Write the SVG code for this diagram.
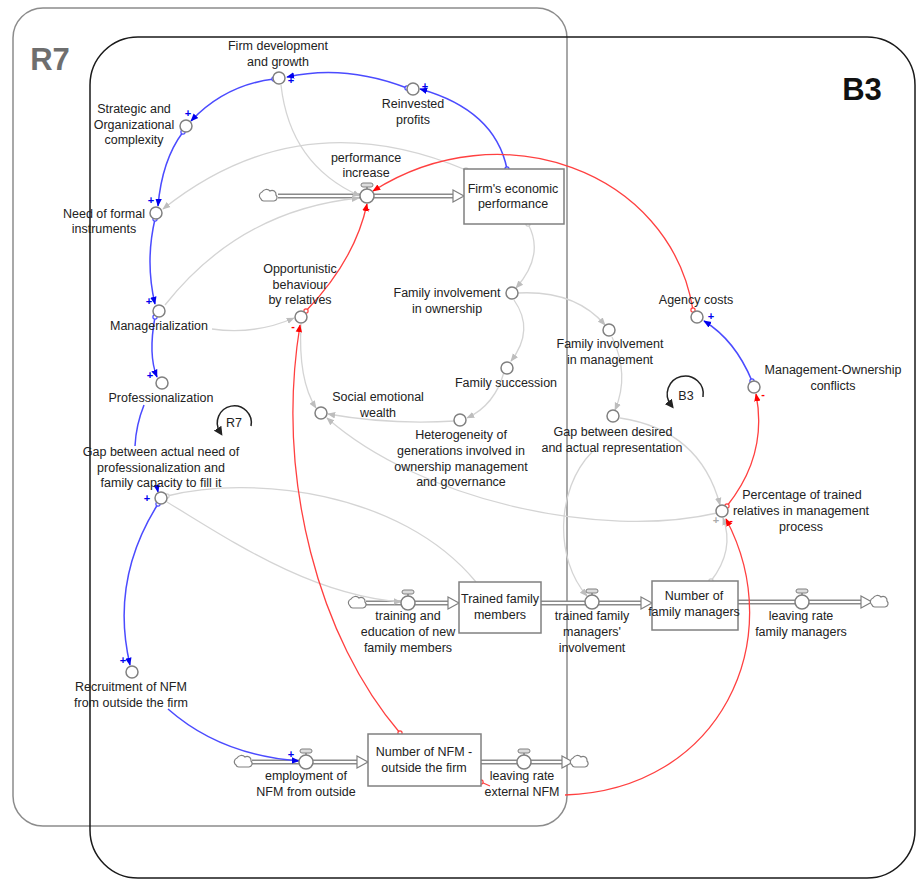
<svg xmlns="http://www.w3.org/2000/svg" xmlns:xlink="http://www.w3.org/1999/xlink" width="917" height="881" viewBox="0 0 917 881">
<style>
.t{font-family:"Liberation Sans",Arial,sans-serif;font-size:12.5px;fill:#222;text-anchor:middle}
.v{fill:#fff;stroke:#808080;stroke-width:1.5}
.box{fill:#fff;stroke:#808080;stroke-width:1.5}
.lb{fill:none;stroke:#4b4bff;stroke-width:1.5}
.lr{fill:none;stroke:#ff4040;stroke-width:1.3}
.lg{fill:none;stroke:#d4d4d4;stroke-width:1.3}
.pipe{fill:none;stroke:#8a8a8a;stroke-width:5}
.pipei{fill:none;stroke:#fff;stroke-width:2}
.pm{font-family:"Liberation Sans",Arial,sans-serif;font-size:11px;font-weight:bold;text-anchor:middle}
</style>
<defs>
<marker id="ab" viewBox="0 0 10 10" refX="9" refY="5" markerWidth="8" markerHeight="8" orient="auto" markerUnits="userSpaceOnUse"><path d="M0,1 L10,5 L0,9 z" fill="#0000ee"/></marker>
<marker id="ar" viewBox="0 0 10 10" refX="9" refY="5" markerWidth="8" markerHeight="8" orient="auto" markerUnits="userSpaceOnUse"><path d="M0,1 L10,5 L0,9 z" fill="#ff0000"/></marker>
<marker id="ag" viewBox="0 0 10 10" refX="9" refY="5" markerWidth="8" markerHeight="8" orient="auto" markerUnits="userSpaceOnUse"><path d="M0,1 L10,5 L0,9 z" fill="#bdbdbd"/></marker>
<marker id="ak" viewBox="0 0 10 10" refX="5" refY="5" markerWidth="9" markerHeight="9" orient="auto" markerUnits="userSpaceOnUse"><path d="M0,0 L10,5 L0,10 z" fill="#222"/></marker>
<marker id="tb" viewBox="0 0 10 10" refX="5" refY="5" markerWidth="6" markerHeight="6" markerUnits="userSpaceOnUse"><circle cx="5" cy="5" r="3.5" fill="#fff" stroke="#4b4bff" stroke-width="2"/></marker>
<marker id="tr" viewBox="0 0 10 10" refX="5" refY="5" markerWidth="6" markerHeight="6" markerUnits="userSpaceOnUse"><circle cx="5" cy="5" r="3.5" fill="#fff" stroke="#ff4040" stroke-width="2"/></marker>
<marker id="tg" viewBox="0 0 10 10" refX="5" refY="5" markerWidth="6" markerHeight="6" markerUnits="userSpaceOnUse"><circle cx="5" cy="5" r="3.5" fill="#fff" stroke="#d0d0d0" stroke-width="2"/></marker>
<g id="valve"><rect x="-6" y="-13" width="12" height="4" rx="2" fill="#ddd" stroke="#808080" stroke-width="1"/><line x1="0" y1="-9" x2="0" y2="-7" stroke="#808080" stroke-width="1.5"/><circle r="7" class="v"/></g>
<g id="cloud"><path d="M-8,3 a4,4 0 0 1 1,-7 a5,5 0 0 1 8,-1 a4,4 0 0 1 6,4 a3.5,3.5 0 0 1 -2,6 h-10 a3,3 0 0 1 -3,-2 z" fill="#fff" stroke="#808080" stroke-width="1.2"/></g>
<path id="tri" d="M0,-6 L11,0 L0,6 z" fill="#fff" stroke="#808080" stroke-width="1.2"/>
</defs>

<g id="loop-boxes">
<rect x="13" y="8" width="554" height="818" rx="30" fill="none" stroke="#8c8c8c" stroke-width="1.5"/>
<rect x="90" y="37" width="825" height="841" rx="48" fill="none" stroke="#1a1a1a" stroke-width="1.5"/>
<text x="50" y="70" font-family="Liberation Sans,Arial,sans-serif" font-size="31" font-weight="bold" fill="#6e6e6e" text-anchor="middle">R7</text>
<text x="862" y="100" font-family="Liberation Sans,Arial,sans-serif" font-size="31" font-weight="bold" fill="#111" text-anchor="middle">B3</text>
</g>

<g id="flows">
<path class="pipe" d="M278,196 H455"/><path class="pipei" d="M278,196 H455"/><use href="#tri" x="453" y="196"/>
<path class="pipe" d="M366,603 H449"/><path class="pipei" d="M366,603 H449"/><use href="#tri" x="448" y="603"/>
<path class="pipe" d="M541,603 H642"/><path class="pipei" d="M541,603 H642"/><use href="#tri" x="641" y="603"/>
<path class="pipe" d="M738,602 H862"/><path class="pipei" d="M738,602 H862"/><use href="#tri" x="861" y="602"/>
<path class="pipe" d="M252,762 H358"/><path class="pipei" d="M252,762 H358"/><use href="#tri" x="357" y="762"/>
<path class="pipe" d="M481,762 H563"/><path class="pipei" d="M481,762 H563"/><use href="#tri" x="562" y="762"/>
</g>

<g id="connectors">
<path class="lg" d="M281,85 Q290,165 360,196" marker-end="url(#ag)"/>
<path class="lg" d="M466,170 Q300,100 163,209" marker-start="url(#tg)" marker-end="url(#ag)"/>
<path class="lg" d="M165,305 Q240,210 359,198" marker-end="url(#ag)"/>
<path class="lg" d="M212,329 Q255,335 294,318" marker-end="url(#ag)"/>
<path class="lg" d="M528,224 Q545,255 516,288" marker-start="url(#tg)" marker-end="url(#ag)"/>
<path class="lg" d="M518,293 Q575,290 605,325" marker-end="url(#ag)"/>
<path class="lg" d="M514,300 Q535,330 511,361" marker-end="url(#ag)"/>
<path class="lg" d="M504,372 Q495,405 467,418" marker-end="url(#ag)"/>
<path class="lg" d="M455,421 Q390,425 328,414" marker-end="url(#ag)"/>
<path class="lg" d="M301,324 Q298,380 316,408" marker-end="url(#ag)"/>
<path class="lg" d="M717,513 C600,540 420,500 327,418" marker-end="url(#ag)"/>
<path class="lg" d="M612,337 Q630,375 615,410" marker-end="url(#ag)"/>
<path class="lg" d="M620,418 Q700,430 720,505" marker-end="url(#ag)"/>
<path class="lg" d="M592,452 C555,490 555,560 587,596" marker-end="url(#ag)"/>
<path class="lg" d="M711,581 Q735,550 723,518" marker-start="url(#tg)" marker-end="url(#ag)"/>
<path class="lg" d="M167,496 C250,475 400,490 476,582" marker-start="url(#tg)"/>
<path class="lg" d="M167,502 C230,540 310,595 401,602" marker-end="url(#ag)"/>

<path class="lb" d="M407,88 Q345,64 287,77" marker-start="url(#tb)" marker-end="url(#ab)"/>
<path class="lb" d="M507,169 Q495,110 420,89" marker-start="url(#tb)" marker-end="url(#ab)"/>
<path class="lb" d="M274,79 Q225,85 191,121" marker-start="url(#tb)" marker-end="url(#ab)"/>
<path class="lb" d="M183,132 Q162,160 158,206" marker-start="url(#tb)" marker-end="url(#ab)"/>
<path class="lb" d="M155,219 Q145,262 155,304" marker-start="url(#tb)" marker-end="url(#ab)"/>
<path class="lb" d="M155,317 Q148,355 157,377" marker-start="url(#tb)" marker-end="url(#ab)"/>
<path class="lb" d="M144,405 Q136,425 135,446"/>
<path class="lb" d="M157,487 L158,492" marker-end="url(#ab)"/>
<path class="lb" d="M158,504 Q110,580 130,665" marker-start="url(#tb)" marker-end="url(#ab)"/>
<path class="lb" d="M168,709 Q220,755 299,761" marker-end="url(#ab)"/>
<path class="lb" d="M752,381 Q735,340 704,321" marker-start="url(#tb)" marker-end="url(#ab)"/>

<path class="lr" d="M693,310 C670,170 500,110 373,191" marker-start="url(#tr)" marker-end="url(#ar)"/>
<path class="lr" d="M306,311 Q355,260 367,204" marker-start="url(#tr)" marker-end="url(#ar)"/>
<path class="lr" d="M400,733 C320,640 275,480 300,325" marker-start="url(#tr)" marker-end="url(#ar)"/>
<path class="lr" d="M565,795 C720,790 790,640 726,519" marker-end="url(#ar)"/>
<path class="lr" d="M727,506 Q768,455 756,394" marker-start="url(#tr)" marker-end="url(#ar)"/>
<path class="lr" d="M481,782 L490,786" marker-start="url(#tr)"/>

<path d="M251,426 A17,17 0 1 0 220,432" fill="none" stroke="#222" stroke-width="1.5" marker-end="url(#ak)"/>
<path d="M703,397 A18,18 0 1 0 671,405" fill="none" stroke="#222" stroke-width="1.5" marker-end="url(#ak)"/>
</g>

<g id="polarities">
<text class="pm" fill="#0000ee" x="291" y="84">+</text>
<text class="pm" fill="#0000ee" x="425" y="90">+</text>
<text class="pm" fill="#0000ee" x="188" y="117">+</text>
<text class="pm" fill="#0000ee" x="151" y="204">+</text>
<text class="pm" fill="#0000ee" x="149" y="305">+</text>
<text class="pm" fill="#0000ee" x="150" y="379">+</text>
<text class="pm" fill="#0000ee" x="147" y="502">+</text>
<text class="pm" fill="#0000ee" x="123" y="664">+</text>
<text class="pm" fill="#0000ee" x="291" y="758">+</text>
<text class="pm" fill="#0000ee" x="711" y="320">+</text>
<text class="pm" fill="#ff0000" x="293" y="330">-</text>
<text class="pm" fill="#ff0000" x="368" y="212">-</text>
<text class="pm" fill="#ff0000" x="763" y="398">-</text>
<text class="pm" fill="#ff0000" x="731" y="524">-</text>
<text class="pm" fill="#aaa" x="716" y="524">+</text>
</g>

<g id="n-firmdev"><circle cx="279" cy="78" r="6" class="v"/><text class="t" x="278" y="50">Firm development</text><text class="t" x="278" y="66">and growth</text></g>
<g id="n-reinvested"><circle cx="413" cy="89" r="6" class="v"/><text class="t" x="413" y="108">Reinvested</text><text class="t" x="413" y="124">profits</text></g>
<g id="n-strategic"><circle cx="186" cy="126" r="6" class="v"/><text class="t" x="134" y="113">Strategic and</text><text class="t" x="134" y="129">Organizational</text><text class="t" x="134" y="144">complexity</text></g>
<g id="n-needformal"><circle cx="156" cy="213" r="6" class="v"/><text class="t" x="104" y="218">Need of formal</text><text class="t" x="104" y="233">instruments</text></g>
<g id="n-manager"><circle cx="159" cy="311" r="6" class="v"/><text class="t" x="159" y="330">Managerialization</text></g>
<g id="n-profess"><circle cx="162" cy="383" r="6" class="v"/><text class="t" x="161" y="402">Professionalization</text></g>
<g id="n-gapactual"><circle cx="161" cy="498" r="6" class="v"/><text class="t" x="161" y="456">Gap between actual need of</text><text class="t" x="161" y="472">professionalization and</text><text class="t" x="161" y="487">family capacity to fill it</text></g>
<g id="n-recruit"><circle cx="132" cy="672" r="6" class="v"/><text class="t" x="131" y="691">Recruitment of NFM</text><text class="t" x="131" y="707">from outside the firm</text></g>
<g id="n-employ"><use href="#cloud" x="244" y="762"/><use href="#valve" x="306" y="762"/><text class="t" x="306" y="780">employment of</text><text class="t" x="306" y="796">NFM from outside</text></g>
<g id="n-nfm"><rect class="box" x="368" y="734" width="113" height="52"/><text class="t" x="424" y="756">Number of NFM -</text><text class="t" x="424" y="772">outside the firm</text></g>
<g id="n-leaveext"><use href="#valve" x="524" y="762"/><use href="#cloud" x="580" y="762"/><text class="t" x="522" y="780">leaving rate</text><text class="t" x="522" y="796">external NFM</text></g>
<g id="n-training"><use href="#cloud" x="358" y="603"/><use href="#valve" x="408" y="603"/><text class="t" x="408" y="620">training and</text><text class="t" x="408" y="636">education of new</text><text class="t" x="408" y="652">family members</text></g>
<g id="n-trained"><rect class="box" x="459" y="582" width="82" height="51"/><text class="t" x="500" y="603">Trained family</text><text class="t" x="500" y="619">members</text></g>
<g id="n-trainedinv"><use href="#valve" x="592" y="602"/><text class="t" x="592" y="620">trained family</text><text class="t" x="592" y="636">managers'</text><text class="t" x="592" y="652">involvement</text></g>
<g id="n-nfam"><rect class="box" x="652" y="581" width="86" height="49"/><text class="t" x="694" y="600">Number of</text><text class="t" x="694" y="616">family managers</text></g>
<g id="n-leavefam"><use href="#valve" x="802" y="602"/><use href="#cloud" x="880" y="602"/><text class="t" x="801" y="620">leaving rate</text><text class="t" x="801" y="636">family managers</text></g>
<g id="n-perfinc"><use href="#cloud" x="269" y="196"/><use href="#valve" x="367" y="196"/><text class="t" x="366" y="162">performance</text><text class="t" x="366" y="177">increase</text></g>
<g id="n-firmperf"><rect class="box" x="464" y="169" width="100" height="55"/><text class="t" x="513" y="193">Firm's economic</text><text class="t" x="513" y="208">performance</text></g>
<g id="n-opport"><circle cx="301" cy="317" r="6" class="v"/><text class="t" x="300" y="273">Opportunistic</text><text class="t" x="300" y="289">behaviour</text><text class="t" x="300" y="304">by relatives</text></g>
<g id="n-fio"><circle cx="512" cy="293" r="6" class="v"/><text class="t" x="447" y="297">Family involvement</text><text class="t" x="447" y="313">in ownership</text></g>
<g id="n-fim"><circle cx="609" cy="330" r="6" class="v"/><text class="t" x="610" y="348">Family involvement</text><text class="t" x="610" y="364">in management</text></g>
<g id="n-succession"><circle cx="507" cy="368" r="6" class="v"/><text class="t" x="506" y="387">Family succession</text></g>
<g id="n-sew"><circle cx="321" cy="413" r="6" class="v"/><text class="t" x="378" y="401">Social emotional</text><text class="t" x="378" y="417">wealth</text></g>
<g id="n-hetero"><circle cx="460" cy="420" r="6" class="v"/><text class="t" x="461" y="439">Heterogeneity of</text><text class="t" x="461" y="455">generations involved in</text><text class="t" x="461" y="471">ownership management</text><text class="t" x="461" y="486">and governance</text></g>
<g id="n-gapdesired"><circle cx="613" cy="416" r="6" class="v"/><text class="t" x="613" y="436">Gap between desired</text><text class="t" x="612" y="452">and actual representation</text></g>
<g id="n-agency"><circle cx="697" cy="317" r="6" class="v"/><text class="t" x="696" y="304">Agency costs</text></g>
<g id="n-moconf"><circle cx="754" cy="387" r="6" class="v"/><text class="t" x="833" y="374">Management-Ownership</text><text class="t" x="833" y="390">conflicts</text></g>
<g id="n-percent"><circle cx="722" cy="511" r="6" class="v"/><text class="t" x="802" y="499">Percentage of trained</text><text class="t" x="801" y="515">relatives in management</text><text class="t" x="801" y="531">process</text></g>
<g id="n-loops"><text class="t" x="234" y="427">R7</text><text class="t" x="686" y="400">B3</text></g>
</svg>
